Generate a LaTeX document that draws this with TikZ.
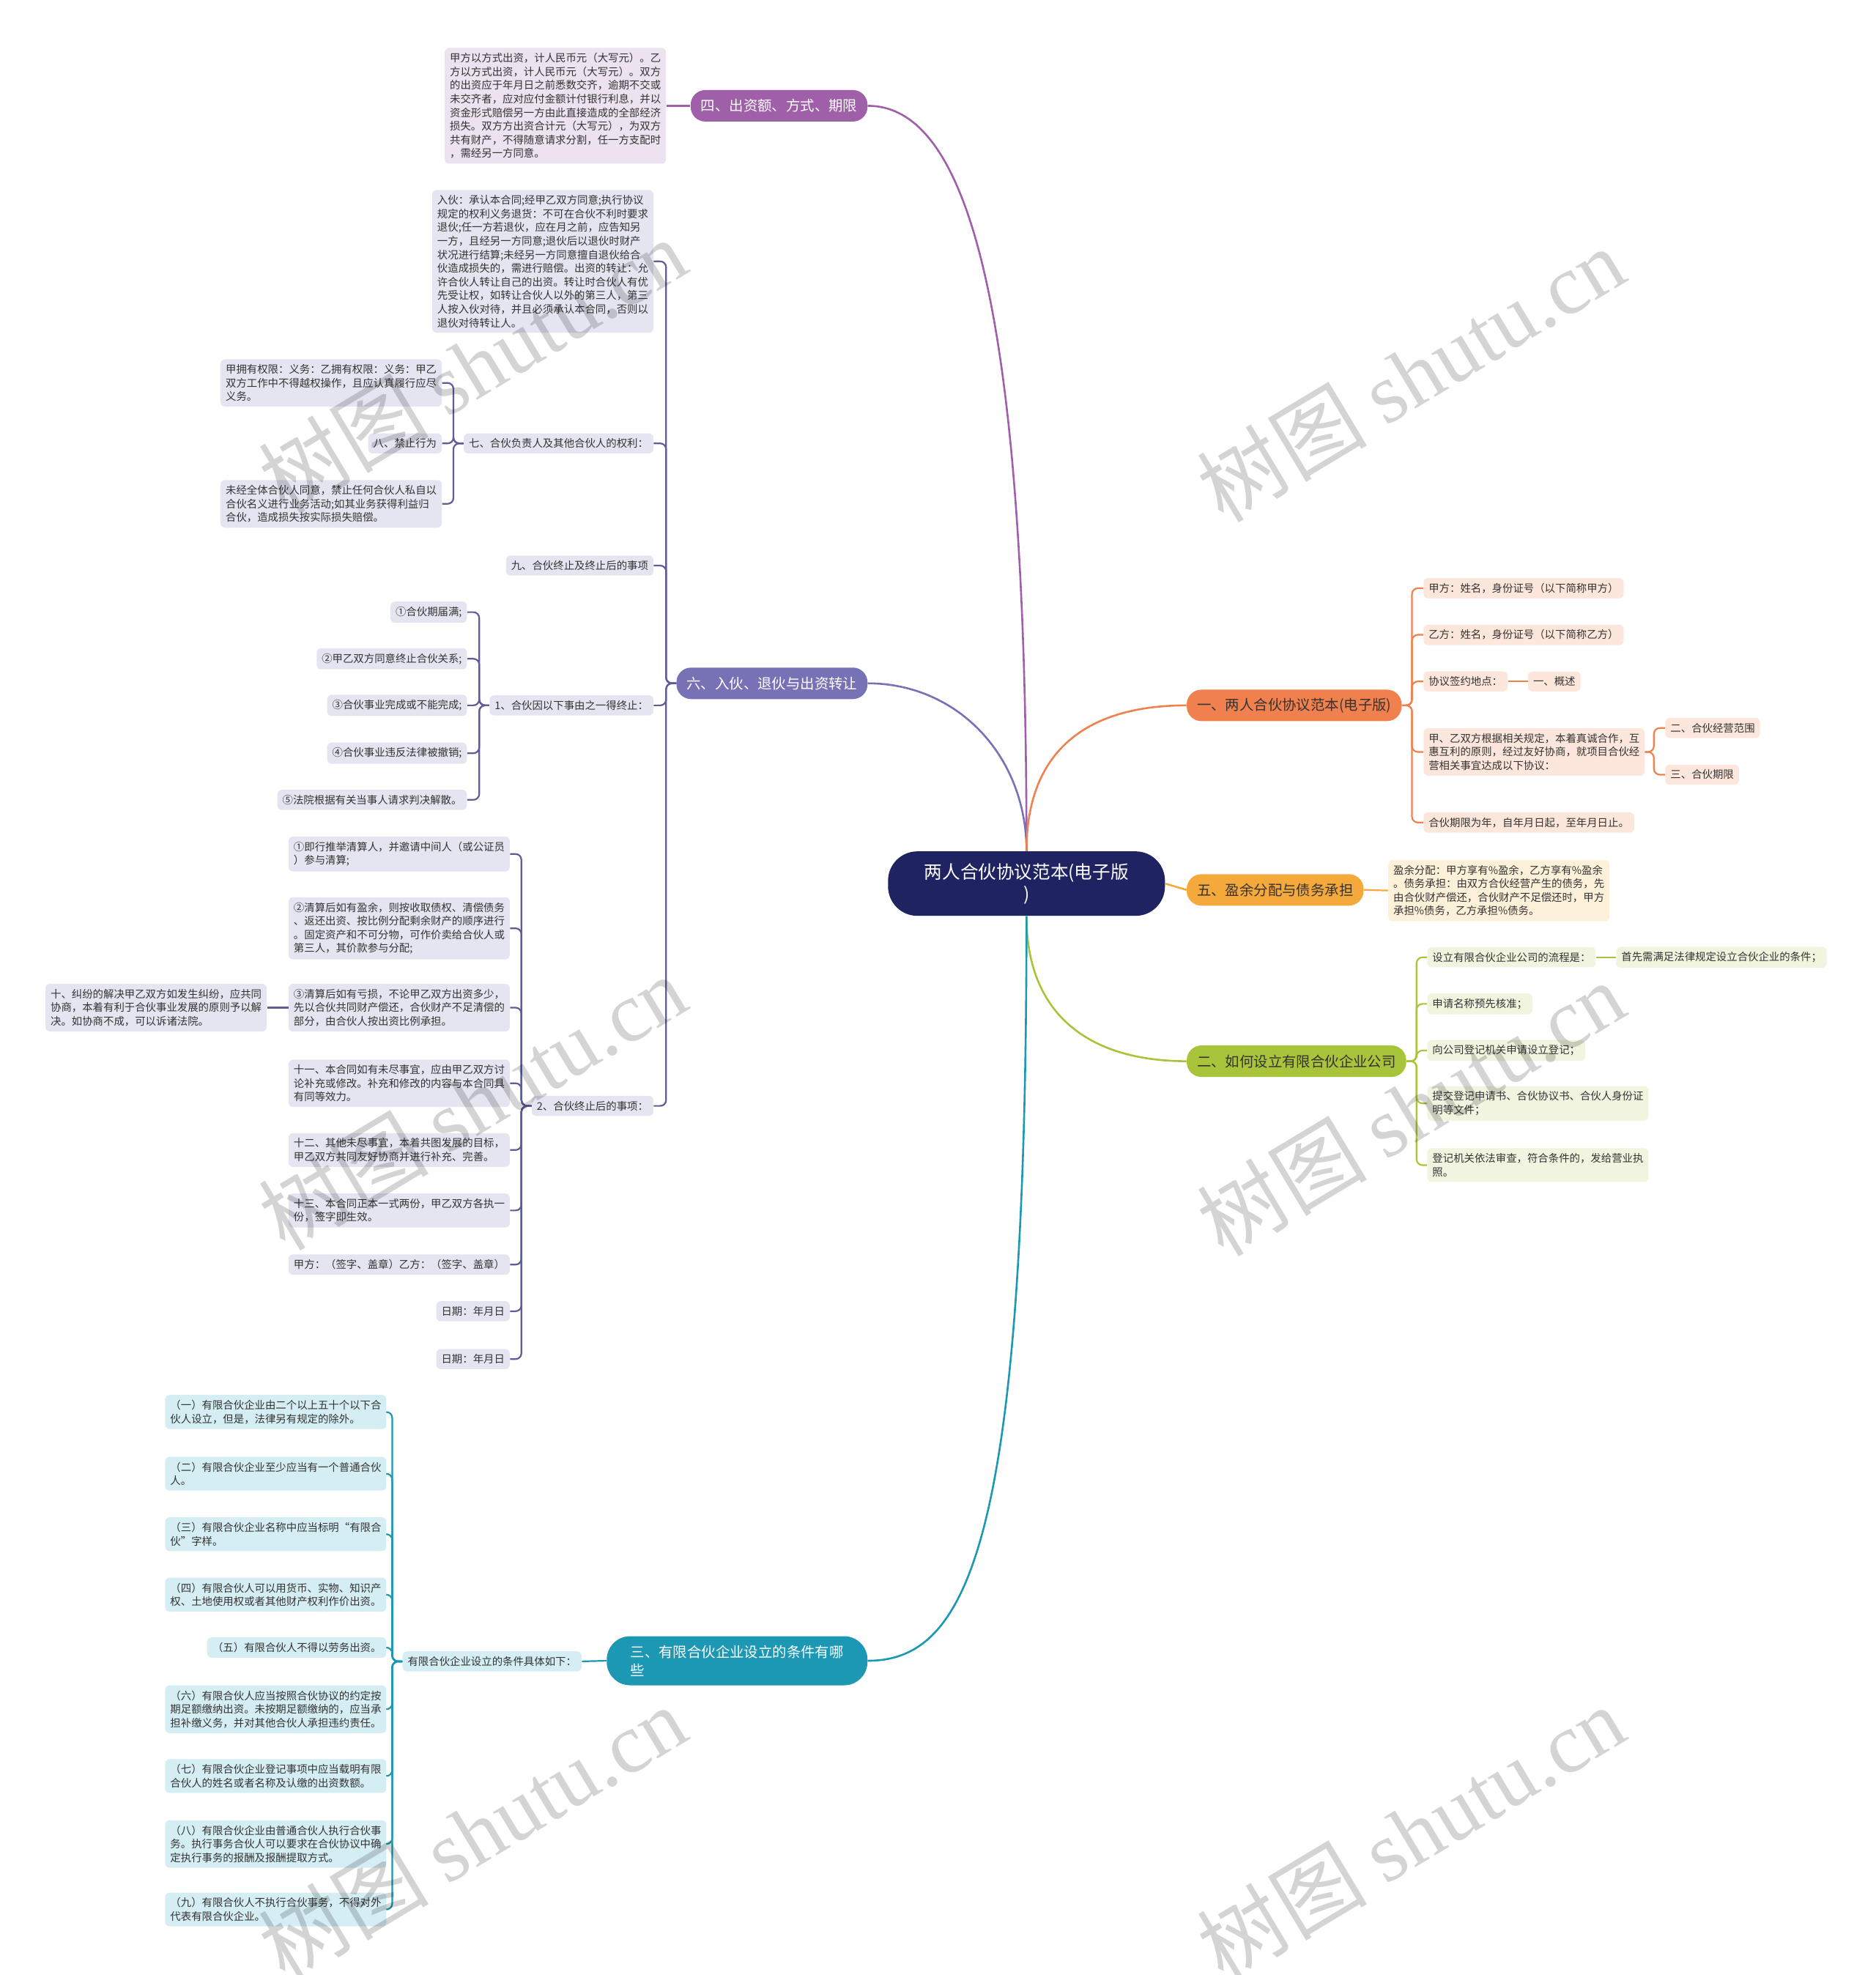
\documentclass[tikz,border=0pt]{standalone}
\usepackage{fontspec}
\setmainfont{Noto Sans CJK SC}
\newfontfamily\wmfont{Liberation Serif}
\usepackage{tikz}
\usetikzlibrary{calc,positioning}

\definecolor{rootnavy}{HTML}{1F2361}
\definecolor{cfour}{HTML}{A05FA9}
\definecolor{lfour}{HTML}{EDE2EF}
\definecolor{csix}{HTML}{7772B6}
\definecolor{dsix}{HTML}{5F5C98}
\definecolor{lsix}{HTML}{E5E5F1}
\definecolor{cthree}{HTML}{1C97B4}
\definecolor{lthree}{HTML}{D5EEF3}
\definecolor{cone}{HTML}{F0814F}
\definecolor{lone}{HTML}{FDE7DC}
\definecolor{cfive}{HTML}{F6A93B}
\definecolor{lfive}{HTML}{FDF1DA}
\definecolor{ctwo}{HTML}{A8C43B}
\definecolor{ltwo}{HTML}{F1F4DF}
\definecolor{leaftext}{HTML}{333333}

\begin{document}
\begin{tikzpicture}[x=0.8597pt,y=-0.8597pt,
  leaf/.style={rounded corners=3pt,inner sep=3.5pt,align=left,text=leaftext,
    font=\fontsize{7.2}{9.3}\selectfont},
  lleaf/.style={leaf,anchor=east},
  rleaf/.style={leaf,anchor=west},
  branch/.style={rounded corners=10pt,inner xsep=7pt,inner ysep=5pt,minimum height=21.5pt,
    font=\fontsize{9.7}{12.5}\selectfont},
  link/.style={line width=1.1pt,rounded corners=4pt},
  curve/.style={line width=1.3pt},
  wm/.style={text=black,opacity=0.17,rotate=31,font=\fontsize{58}{62}\selectfont}]
\useasboundingbox (0,0) rectangle (1489,1568);

% centre
\node[fill=rootnavy,text=white,rounded corners=20pt,minimum width=189pt,minimum height=44pt,
  align=center,font=\fontsize{12.3}{15}\selectfont] (root) at (815,701.5) {两人合伙协议范本(电子版\\)};

% main branches
\node[branch,fill=cfour,text=white,anchor=east] (b_4) at (689,84) {四、出资额、方式、期限};
\node[branch,fill=csix,text=white,anchor=east] (b_6) at (689,542.5) {六、入伙、退伙与出资转让};
\node[branch,fill=cthree,text=white,anchor=east,rounded corners=16pt,align=left,
  minimum width=178pt,minimum height=33.5pt] (b_3) at (689,1318.5) {三、有限合伙企业设立的条件有哪\\些};
\node[branch,fill=cone,text=black!80,anchor=west] (b_1) at (942,560) {一、两人合伙协议范本(电子版)};
\node[branch,fill=cfive,text=black!80,anchor=west] (b_5) at (942,706.5) {五、盈余分配与债务承担};
\node[branch,fill=ctwo,text=black!80,anchor=west] (b_2) at (942,842.5) {二、如何设立有限合伙企业公司};

\draw[curve,cfour] (root.north) .. controls (815,250) and (770,84) .. (b_4.east);
\draw[curve,csix] (root.north) .. controls (815,600) and (760,542.5) .. (b_6.east);
\draw[curve,cone] (root.north) .. controls (815,590) and (870,560) .. (b_1.west);
\draw[curve,cfive] (root.east) -- (b_5.west);
\draw[curve,ctwo] (root.south) .. controls (815,810) and (870,842.5) .. (b_2.west);
\draw[curve,cthree] (root.south) .. controls (815,1220) and (770,1318.5) .. (b_3.east);

% four
\node[lleaf,fill=lfour] (l_4) at (529,84) {甲方以方式出资，计人民币元（大写元）。乙\\方以方式出资，计人民币元（大写元）。双方\\的出资应于年月日之前悉数交齐，逾期不交或\\未交齐者，应对应付金额计付银行利息，并以\\资金形式赔偿另一方由此直接造成的全部经济\\损失。双方方出资合计元（大写元），为双方\\共有财产，不得随意请求分割，任一方支配时\\，需经另一方同意。};
\draw[link,cfour] (b_4.west) -- (l_4.east);

% six
\node[lleaf,fill=lsix] (s_join) at (519,207.5) {入伙：承认本合同;经甲乙双方同意;执行协议\\规定的权利义务退货：不可在合伙不利时要求\\退伙;任一方若退伙，应在月之前，应告知另\\一方，且经另一方同意;退伙后以退伙时财产\\状况进行结算;未经另一方同意擅自退伙给合\\伙造成损失的，需进行赔偿。出资的转让：允\\许合伙人转让自己的出资。转让时合伙人有优\\先受让权，如转让合伙人以外的第三人，第三\\人按入伙对待，并且必须承认本合同，否则以\\退伙对待转让人。};
\node[lleaf,fill=lsix] (s_7) at (519,352) {七、合伙负责人及其他合伙人的权利：};
\node[lleaf,fill=lsix] (s_9) at (519,449) {九、合伙终止及终止后的事项};
\node[lleaf,fill=lsix] (s_a) at (519,560) {1、合伙因以下事由之一得终止：};
\node[lleaf,fill=lsix] (s_b) at (519,878) {2、合伙终止后的事项：};
\foreach \n in {s_join,s_7,s_9,s_a,s_b}
  \draw[link,dsix] (b_6.west) -- ++(-8,0) |- (\n.east);

\node[lleaf,fill=lsix] (r_1) at (351,304) {甲拥有权限：义务：乙拥有权限：义务：甲乙\\双方工作中不得越权操作，且应认真履行应尽\\义务。};
\node[lleaf,fill=lsix] (r_8) at (351,352) {八、禁止行为};
\node[lleaf,fill=lsix] (r_2) at (351,400) {未经全体合伙人同意，禁止任何合伙人私自以\\合伙名义进行业务活动;如其业务获得利益归\\合伙，造成损失按实际损失赔偿。};
\foreach \n in {r_1,r_8,r_2}
  \draw[link,dsix] (s_7.west) -- ++(-8,0) |- (\n.east);

\node[lleaf,fill=lsix] (e_1) at (371,486) {①合伙期届满;};
\node[lleaf,fill=lsix] (e_2) at (371,523) {②甲乙双方同意终止合伙关系;};
\node[lleaf,fill=lsix] (e_3) at (371,560) {③合伙事业完成或不能完成;};
\node[lleaf,fill=lsix] (e_4) at (371,598) {④合伙事业违反法律被撤销;};
\node[lleaf,fill=lsix] (e_5) at (371,635) {⑤法院根据有关当事人请求判决解散。};
\foreach \n in {e_1,e_2,e_3,e_4,e_5}
  \draw[link,dsix] (s_a.west) -- ++(-8,0) |- (\n.east);

\node[lleaf,fill=lsix] (t_1) at (405,678) {①即行推举清算人，并邀请中间人（或公证员\\）参与清算;};
\node[lleaf,fill=lsix] (t_2) at (405,737) {②清算后如有盈余，则按收取债权、清偿债务\\、返还出资、按比例分配剩余财产的顺序进行\\。固定资产和不可分物，可作价卖给合伙人或\\第三人，其价款参与分配;};
\node[lleaf,fill=lsix] (t_3) at (405,800) {③清算后如有亏损，不论甲乙双方出资多少，\\先以合伙共同财产偿还，合伙财产不足清偿的\\部分，由合伙人按出资比例承担。};
\node[lleaf,fill=lsix] (t_11) at (405,860) {十一、本合同如有未尽事宜，应由甲乙双方讨\\论补充或修改。补充和修改的内容与本合同具\\有同等效力。};
\node[lleaf,fill=lsix] (t_12) at (405,913) {十二、其他未尽事宜，本着共图发展的目标，\\甲乙双方共同友好协商并进行补充、完善。};
\node[lleaf,fill=lsix] (t_13) at (405,961) {十三、本合同正本一式两份，甲乙双方各执一\\份，签字即生效。};
\node[lleaf,fill=lsix] (t_sign) at (405,1004) {甲方：（签字、盖章）乙方：（签字、盖章）};
\node[lleaf,fill=lsix] (t_d1) at (405,1041) {日期：年月日};
\node[lleaf,fill=lsix] (t_d2) at (405,1079) {日期：年月日};
\foreach \n in {t_1,t_2,t_3,t_11,t_12,t_13,t_sign,t_d1,t_d2}
  \draw[link,dsix] (s_b.west) -- ++(-8,0) |- (\n.east);

\node[lleaf,fill=lsix] (t_10) at (212,800) {十、纠纷的解决甲乙双方如发生纠纷，应共同\\协商，本着有利于合伙事业发展的原则予以解\\决。如协商不成，可以诉诸法院。};
\draw[link,dsix] (t_3.west) -- (t_10.east);

% three
\node[lleaf,fill=lthree] (c_0) at (462,1319) {有限合伙企业设立的条件具体如下：};
\draw[link,cthree] (b_3.west) -- (c_0.east);
\node[lleaf,fill=lthree] (c_1) at (307,1121) {（一）有限合伙企业由二个以上五十个以下合\\伙人设立，但是，法律另有规定的除外。};
\node[lleaf,fill=lthree] (c_2) at (307,1170) {（二）有限合伙企业至少应当有一个普通合伙\\人。};
\node[lleaf,fill=lthree] (c_3) at (307,1218) {（三）有限合伙企业名称中应当标明“有限合\\伙”字样。};
\node[lleaf,fill=lthree] (c_4) at (307,1266) {（四）有限合伙人可以用货币、实物、知识产\\权、土地使用权或者其他财产权利作价出资。};
\node[lleaf,fill=lthree] (c_5) at (307,1308) {（五）有限合伙人不得以劳务出资。};
\node[lleaf,fill=lthree] (c_6) at (307,1357) {（六）有限合伙人应当按照合伙协议的约定按\\期足额缴纳出资。未按期足额缴纳的，应当承\\担补缴义务，并对其他合伙人承担违约责任。};
\node[lleaf,fill=lthree] (c_7) at (307,1410) {（七）有限合伙企业登记事项中应当载明有限\\合伙人的姓名或者名称及认缴的出资数额。};
\node[lleaf,fill=lthree] (c_8) at (307,1464) {（八）有限合伙企业由普通合伙人执行合伙事\\务。执行事务合伙人可以要求在合伙协议中确\\定执行事务的报酬及报酬提取方式。};
\node[lleaf,fill=lthree] (c_9) at (307,1516) {（九）有限合伙人不执行合伙事务，不得对外\\代表有限合伙企业。};
\foreach \n in {c_1,c_2,c_3,c_4,c_5,c_6,c_7,c_8,c_9}
  \draw[link,cthree] (c_0.west) -- ++(-8,0) |- (\n.east);

% one
\node[rleaf,fill=lone] (o_1) at (1130,467) {甲方：姓名，身份证号（以下简称甲方）};
\node[rleaf,fill=lone] (o_2) at (1130,504) {乙方：姓名，身份证号（以下简称乙方）};
\node[rleaf,fill=lone] (o_3) at (1130,541) {协议签约地点：};
\node[rleaf,fill=lone] (o_4) at (1130,597) {甲、乙双方根据相关规定，本着真诚合作，互\\惠互利的原则，经过友好协商，就项目合伙经\\营相关事宜达成以下协议：};
\node[rleaf,fill=lone] (o_5) at (1130,653) {合伙期限为年，自年月日起，至年月日止。};
\foreach \n in {o_1,o_2,o_3,o_4,o_5}
  \draw[link,cone] (b_1.east) -- ++(8,0) |- (\n.west);
\node[rleaf,fill=lone] (o_3a) at (1213,541) {一、概述};
\draw[link,cone] (o_3.east) -- (o_3a.west);
\node[rleaf,fill=lone] (o_4a) at (1322,578) {二、合伙经营范围};
\node[rleaf,fill=lone] (o_4b) at (1322,615) {三、合伙期限};
\foreach \n in {o_4a,o_4b}
  \draw[link,cone] (o_4.east) -- ++(7,0) |- (\n.west);

% five
\node[rleaf,fill=lfive] (f_1) at (1102,707) {盈余分配：甲方享有\%盈余，乙方享有\%盈余\\。债务承担：由双方合伙经营产生的债务，先\\由合伙财产偿还，合伙财产不足偿还时，甲方\\承担\%债务，乙方承担\%债务。};
\draw[link,cfive] (b_5.east) -- (f_1.west);

% two
\node[rleaf,fill=ltwo] (g_1) at (1133,760) {设立有限合伙企业公司的流程是：};
\node[rleaf,fill=ltwo] (g_2) at (1133,797) {申请名称预先核准；};
\node[rleaf,fill=ltwo] (g_3) at (1133,834) {向公司登记机关申请设立登记；};
\node[rleaf,fill=ltwo] (g_4) at (1133,876) {提交登记申请书、合伙协议书、合伙人身份证\\明等文件；};
\node[rleaf,fill=ltwo] (g_5) at (1133,925) {登记机关依法审查，符合条件的，发给营业执\\照。};
\foreach \n in {g_1,g_2,g_3,g_4,g_5}
  \draw[link,ctwo] (b_2.east) -- ++(8,0) |- (\n.west);
\node[rleaf,fill=ltwo] (g_1a) at (1283,760) {首先需满足法律规定设立合伙企业的条件；};
\draw[link,ctwo] (g_1.east) -- (g_1a.west);

% watermarks
\node[wm] (wm_1) at (375,290) {树图 {\wmfont shutu.cn}};
\node[wm] (wm_2) at (375,875) {树图 {\wmfont shutu.cn}};
\node[wm] (wm_3) at (375,1455) {树图 {\wmfont shutu.cn}};
\node[wm] (wm_4) at (1120,297) {树图 {\wmfont shutu.cn}};
\node[wm] (wm_5) at (1120,880) {树图 {\wmfont shutu.cn}};
\node[wm] (wm_6) at (1120,1455) {树图 {\wmfont shutu.cn}};
\end{tikzpicture}
\end{document}
